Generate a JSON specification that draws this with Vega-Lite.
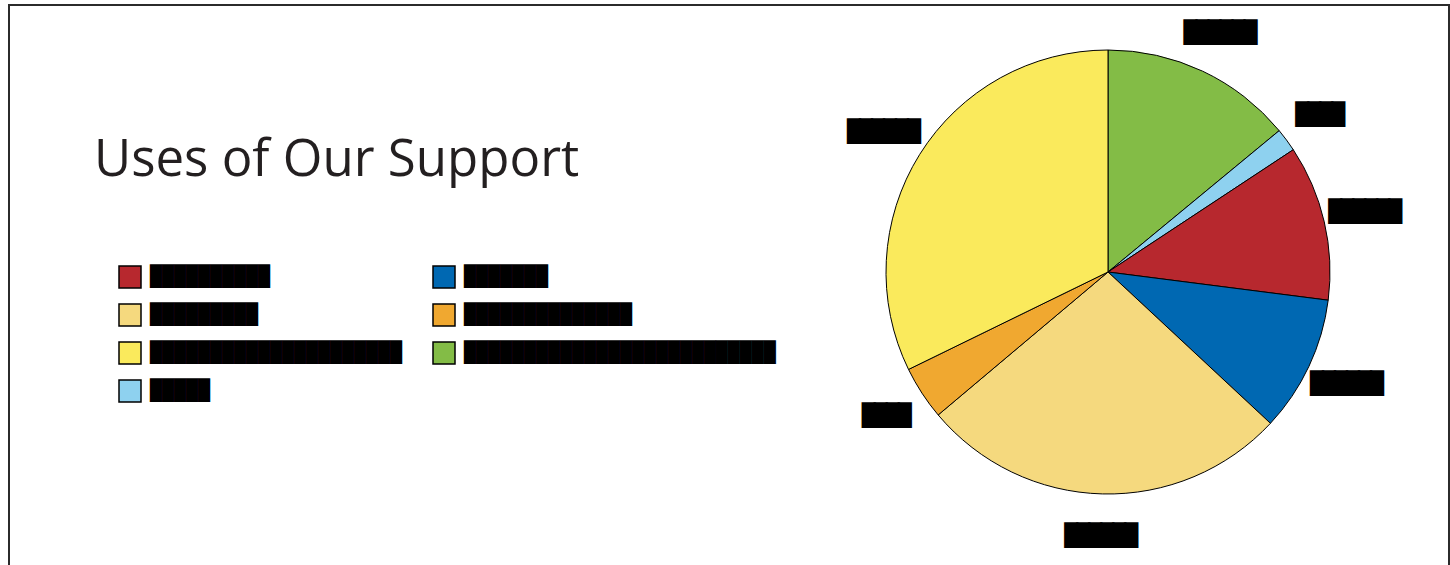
{
  "$schema": "https://vega.github.io/schema/vega-lite/v6.json",
  "autosize": {"type": "fit", "contains": "padding"},
  "width": 1450,
  "height": 565,
  "padding": {"top": 5, "left": 9, "right": 1, "bottom": -4},
  "background": "white",
  "view": {"stroke": "#2b2b2b", "strokeWidth": 2},
  "title": {
    "text": "Uses of Our Support",
    "orient": "top",
    "anchor": "start",
    "frame": "group",
    "baseline": "alphabetic",
    "offset": -222,
    "dx": 85,
    "font": "Open Sans",
    "fontSize": 51,
    "fontWeight": "normal",
    "color": "#231f20"
  },
  "data": {
    "values": [
      {"use": "green", "share": 14.0, "order": 1, "legend": "██████████████████████████", "plabel": "██████"},
      {"use": "lightblue", "share": 1.7, "order": 2, "legend": "█████", "plabel": "████"},
      {"use": "red", "share": 11.3, "order": 3, "legend": "██████████", "plabel": "██████"},
      {"use": "blue", "share": 9.9, "order": 4, "legend": "███████", "plabel": "██████"},
      {"use": "tan", "share": 26.9, "order": 5, "legend": "█████████", "plabel": "██████"},
      {"use": "orange", "share": 3.9, "order": 6, "legend": "██████████████", "plabel": "████"},
      {"use": "yellow", "share": 32.2, "order": 7, "legend": "█████████████████████", "plabel": "██████"}
    ]
  },
  "encoding": {
    "theta": {"field": "share", "type": "quantitative", "stack": true},
    "order": {"field": "order", "type": "quantitative"}
  },
  "layer": [
    {
      "mark": {"type": "arc", "outerRadius": 222, "x": 1099, "y": 267, "stroke": "black", "strokeWidth": 1},
      "encoding": {
        "color": {
          "field": "legend",
          "type": "nominal",
          "scale": {
            "domain": ["██████████", "█████████", "█████████████████████", "█████", "███████", "██████████████", "██████████████████████████"],
            "range": ["#b7282e", "#f5d97e", "#faea5c", "#8ed1ef", "#0068b2", "#f0a830", "#83bc46"]
          },
          "legend": {
            "title": null,
            "orient": "none",
            "legendX": 109,
            "legendY": 260,
            "columns": 2,
            "columnPadding": 28,
            "rowPadding": 10,
            "symbolType": "square",
            "symbolSize": 484,
            "symbolStrokeColor": "black",
            "symbolStrokeWidth": 1.5,
            "symbolOpacity": 1,
            "labelFont": "DejaVu Sans Mono",
            "labelFontSize": 19.93,
            "labelColor": "black",
            "labelOffset": 8,
            "labelLimit": 0
          }
        }
      }
    },
    {
      "mark": {"type": "text", "radius": 264, "x": 1099, "y": 267, "font": "DejaVu Sans Mono", "fontSize": 19.93, "align": "center", "baseline": "middle", "color": "black", "stroke": "black", "strokeWidth": 2},
      "encoding": {
        "text": {"field": "plabel", "type": "nominal"}
      }
    }
  ]
}
